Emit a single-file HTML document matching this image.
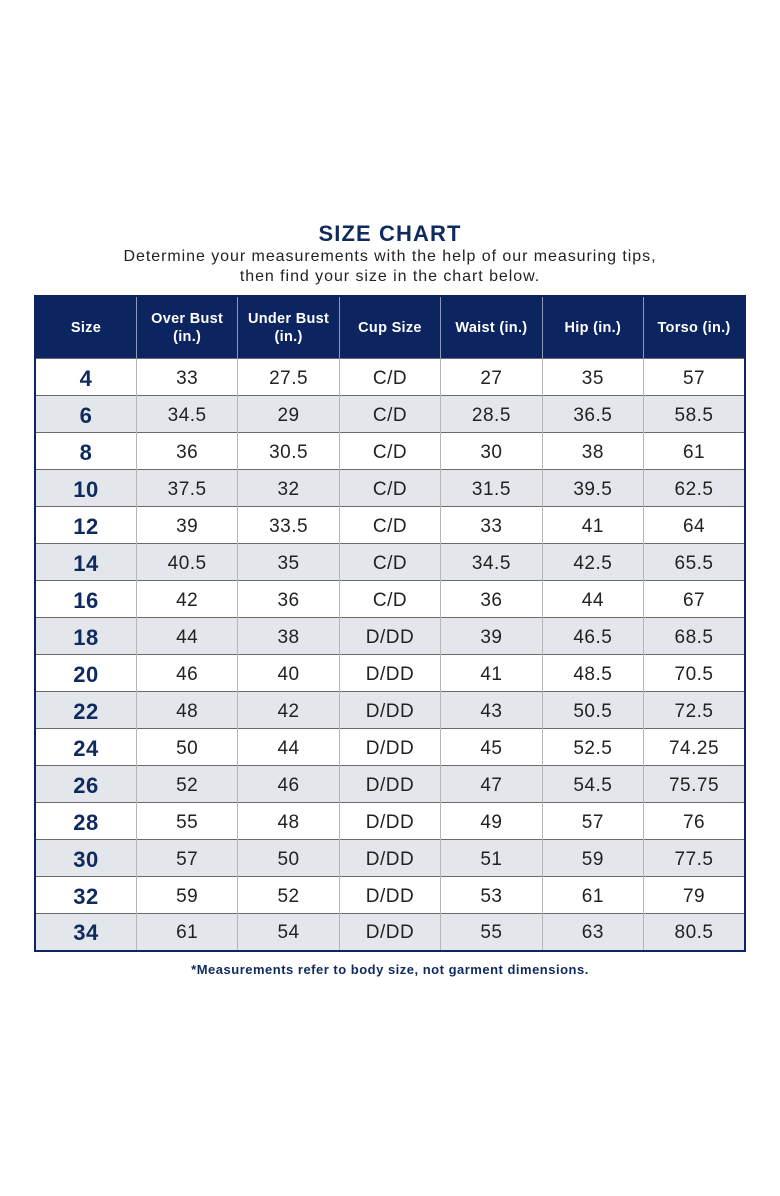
<!DOCTYPE html>
<html><head><meta charset="utf-8"><style>
html,body{margin:0;padding:0;background:#fff;}
body{width:780px;height:1196px;position:relative;font-family:"Liberation Sans",sans-serif;overflow:hidden;}
.title{position:absolute;left:0;width:780px;top:221px;text-align:center;font-size:22px;font-weight:bold;color:#0f2a5e;letter-spacing:1.1px;}
.sub{position:absolute;left:0;width:780px;top:247px;text-align:center;font-size:16px;line-height:20px;color:#222;letter-spacing:0.95px;}
table{position:absolute;left:34px;top:295px;width:712px;border-collapse:collapse;table-layout:fixed;border:2px solid #0c2561;}
th{background:#0c2561;color:#fff;font-size:14.5px;font-weight:bold;height:61px;padding:0;line-height:18px;border-left:1px solid #8c9ab8;letter-spacing:0.3px;}
th:first-child{border-left:none;}
td{height:36px;padding:3px 0 0 0;box-sizing:border-box;text-align:center;font-size:19px;color:#222;border-top:1px solid #6a6a6a;border-left:1px solid #b5b5b5;letter-spacing:0.5px;}
tr td{height:37px;}
td:first-child{border-left:none;font-weight:bold;font-size:22px;color:#0f2a5e;}
tr.g td{background:#e3e6eb;}
.foot{position:absolute;left:0;width:780px;top:962px;text-align:center;font-size:13px;font-weight:bold;color:#0f2a5e;letter-spacing:0.5px;}
</style></head><body>
<div class="title">SIZE CHART</div>
<div class="sub">Determine your measurements with the help of our measuring tips,<br>then find your size in the chart below.</div>
<table>
<tr><th>Size</th><th>Over Bust<br>(in.)</th><th>Under Bust<br>(in.)</th><th>Cup Size</th><th>Waist (in.)</th><th>Hip (in.)</th><th>Torso (in.)</th></tr>
<tr><td>4</td><td>33</td><td>27.5</td><td>C/D</td><td>27</td><td>35</td><td>57</td></tr>
<tr class="g"><td>6</td><td>34.5</td><td>29</td><td>C/D</td><td>28.5</td><td>36.5</td><td>58.5</td></tr>
<tr><td>8</td><td>36</td><td>30.5</td><td>C/D</td><td>30</td><td>38</td><td>61</td></tr>
<tr class="g"><td>10</td><td>37.5</td><td>32</td><td>C/D</td><td>31.5</td><td>39.5</td><td>62.5</td></tr>
<tr><td>12</td><td>39</td><td>33.5</td><td>C/D</td><td>33</td><td>41</td><td>64</td></tr>
<tr class="g"><td>14</td><td>40.5</td><td>35</td><td>C/D</td><td>34.5</td><td>42.5</td><td>65.5</td></tr>
<tr><td>16</td><td>42</td><td>36</td><td>C/D</td><td>36</td><td>44</td><td>67</td></tr>
<tr class="g"><td>18</td><td>44</td><td>38</td><td>D/DD</td><td>39</td><td>46.5</td><td>68.5</td></tr>
<tr><td>20</td><td>46</td><td>40</td><td>D/DD</td><td>41</td><td>48.5</td><td>70.5</td></tr>
<tr class="g"><td>22</td><td>48</td><td>42</td><td>D/DD</td><td>43</td><td>50.5</td><td>72.5</td></tr>
<tr><td>24</td><td>50</td><td>44</td><td>D/DD</td><td>45</td><td>52.5</td><td>74.25</td></tr>
<tr class="g"><td>26</td><td>52</td><td>46</td><td>D/DD</td><td>47</td><td>54.5</td><td>75.75</td></tr>
<tr><td>28</td><td>55</td><td>48</td><td>D/DD</td><td>49</td><td>57</td><td>76</td></tr>
<tr class="g"><td>30</td><td>57</td><td>50</td><td>D/DD</td><td>51</td><td>59</td><td>77.5</td></tr>
<tr><td>32</td><td>59</td><td>52</td><td>D/DD</td><td>53</td><td>61</td><td>79</td></tr>
<tr class="g"><td>34</td><td>61</td><td>54</td><td>D/DD</td><td>55</td><td>63</td><td>80.5</td></tr>
</table>
<div class="foot">*Measurements refer to body size, not garment dimensions.</div>
</body></html>
